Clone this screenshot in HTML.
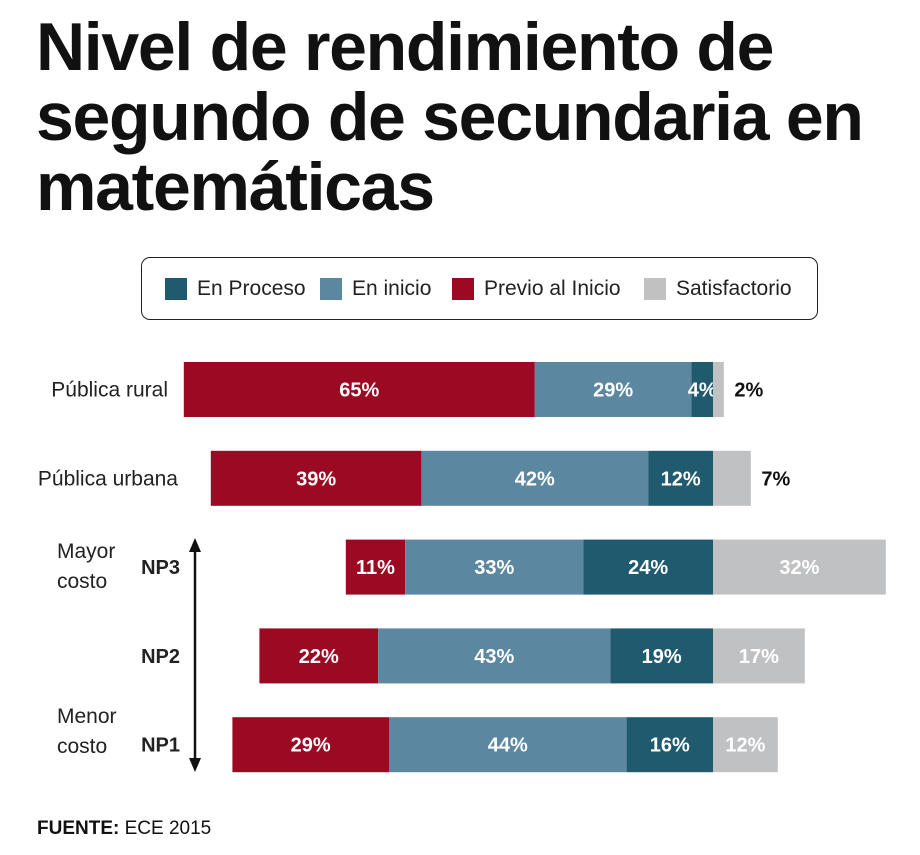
<!DOCTYPE html>
<html><head><meta charset="utf-8">
<style>
body{margin:0;width:920px;height:855px;background:#fff;font-family:"Liberation Sans",sans-serif;overflow:hidden}
.title{position:absolute;left:36px;top:12px;font-weight:bold;font-size:68px;line-height:70px;letter-spacing:-1.3px;color:#111;margin:0}
.legend{position:absolute;left:141px;top:257px;width:677px;height:63px;border:1.5px solid #222;border-radius:9px;box-sizing:border-box}
.li{position:absolute;top:19px;font-size:21px;color:#222;display:flex;align-items:center}
.sw{width:22px;height:22px;margin-right:10px}
.src{position:absolute;left:37px;top:818px;font-size:19px;color:#111}
</style></head><body>
<h1 class="title">Nivel de rendimiento de<br>segundo de secundaria en<br>matemáticas</h1>
<div class="legend">
 <div class="li" style="left:23px"><div class="sw" style="background:#1f5a6e"></div>En Proceso</div>
 <div class="li" style="left:178px"><div class="sw" style="background:#5b87a0"></div>En inicio</div>
 <div class="li" style="left:310px"><div class="sw" style="background:#9b0a22"></div>Previo al Inicio</div>
 <div class="li" style="left:502px"><div class="sw" style="background:#c0c1c3"></div>Satisfactorio</div>
</div>
<svg id="chart" width="920" height="855" style="position:absolute;left:0;top:0"></svg>
<div class="src"><b>FUENTE:</b> ECE 2015</div>
<script>
const categories=["Pública rural","Pública urbana","NP3","NP2","NP1"];
const previo=[65,39,11,22,29];
const inicio=[29,42,33,43,44];
const proceso=[4,12,24,19,16];
const satisf=[2,7,32,17,12];
const svg=document.getElementById('chart');
const NS="http://www.w3.org/2000/svg";
const zero=713, pxPer=5.4;
const x=v=>zero+v*pxPer;
const y=i=>362+i*88.8;
const bh=55;
function mk(t,a){const e=document.createElementNS(NS,t);for(const k in a)e.setAttribute(k,a[k]);svg.appendChild(e);return e;}
function txt(s,xx,yy,anchor,fill,bold,size){const t=mk('text',{x:xx,y:yy,'text-anchor':anchor,fill:fill,'font-size':size||20,'font-weight':bold?'bold':'normal','font-family':'Liberation Sans, sans-serif'});t.textContent=s;return t;}
categories.forEach((c,i)=>{
 const segs=[[-(previo[i]+inicio[i]+proceso[i]),previo[i],'#9b0a22','#fff','previo'],
  [-(inicio[i]+proceso[i]),inicio[i],'#5b87a0','#fff','inicio'],
  [-proceso[i],proceso[i],'#1f5a6e','#fff','proceso'],
  [0,satisf[i],'#c0c1c3','#fff','satisfactorio']];
 segs.forEach(s=>{
  const r=mk('rect',{x:x(s[0]),y:y(i),width:s[1]*pxPer,height:bh,fill:s[2]});
  
  
  let cx=x(s[0]+s[1]/2), col=s[3];
  if(s[4]==='satisfactorio'&&s[1]<10){cx=x(s[1])+25;col='#111';}
  const t=txt(s[1]+'%',cx,y(i)+bh/2+7,'middle',col,true,20);
  
  
 });
});
[[0,'Pública rural',168,false],[1,'Pública urbana',178,false],[2,'NP3',180,true],[3,'NP2',180,true],[4,'NP1',180,true]].forEach(d=>{
 const t=txt(d[1],d[2],y(d[0])+bh/2+7,'end','#222',d[3],d[3]?20:21);
 
 
});
let t1=txt('Mayor',57,558,'start','#222',false,21);
let t2=txt('costo',57,588,'start','#222',false,21);
let t3=txt('Menor',57,723,'start','#222',false,21);
let t4=txt('costo',57,753,'start','#222',false,21);
const ln=mk('line',{x1:195,y1:548,x2:195,y2:762,stroke:'#111','stroke-width':2.5});

mk('polygon',{points:'195,538 189,552 201,552',fill:'#111'});
mk('polygon',{points:'195,772 189,758 201,758',fill:'#111'});
</script>
</body></html>
